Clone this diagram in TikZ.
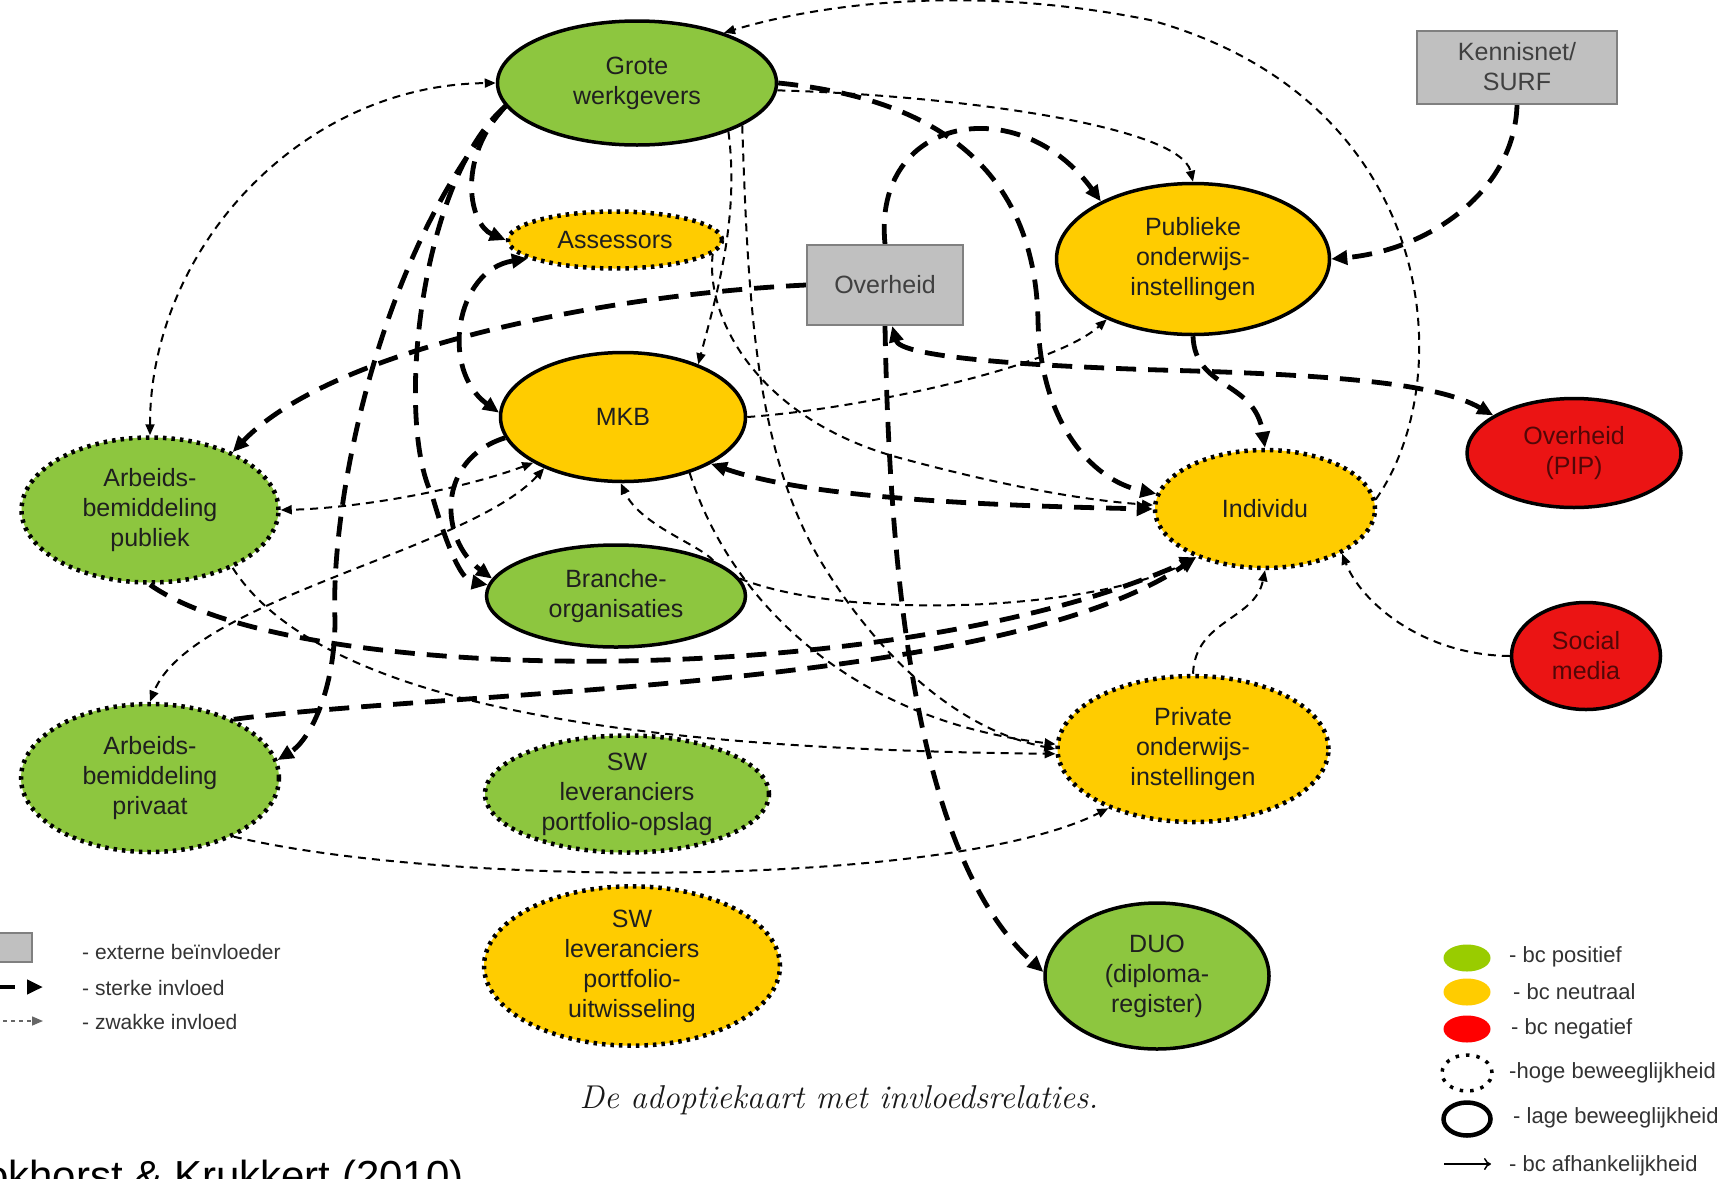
\documentclass[tikz,border=0pt]{standalone}
\usepackage{fontspec}
\newfontfamily\nf{Liberation Sans}
\usetikzlibrary{arrows.meta,shapes.geometric}
\definecolor{ngreen}{RGB}{141,198,63}
\definecolor{nyellow}{RGB}{255,204,0}
\definecolor{nred}{RGB}{235,20,20}
\definecolor{boxgrey}{RGB}{192,192,192}
\definecolor{boxedge}{RGB}{128,128,128}
\definecolor{lgreen}{RGB}{153,204,0}
\definecolor{lred}{RGB}{255,0,0}
\pgfdeclarelayer{bgl}
\pgfdeclarelayer{edges}
\pgfsetlayers{bgl,edges,main}
\tikzset{
  nbase/.style={ellipse, inner sep=0pt, align=center, font=\nf\fontsize{25}{30}\selectfont, text=black!88},
  solidb/.style={draw=black, line width=3.5pt},
  dotb/.style={draw=black, line width=4.5pt, dash pattern=on 3.5pt off 5pt},
  gr/.style={fill=ngreen},
  ye/.style={fill=nyellow},
  re/.style={fill=nred, text=nred!35!black},
  ext/.style={rectangle, inner sep=0pt, fill=boxgrey, draw=boxedge, line width=2pt, align=center, font=\nf\fontsize{25}{30}\selectfont, text=black!75},
  strong/.style={line width=4.8pt, dash pattern=on 20pt off 12pt, -{Triangle[length=16pt,width=14pt]}},
  strongboth/.style={line width=4.8pt, dash pattern=on 20pt off 12pt, {Triangle[length=16pt,width=14pt]}-{Triangle[length=16pt,width=14pt]}},
  weak/.style={line width=2pt, dash pattern=on 8pt off 6pt, -{Triangle[length=11pt,width=9pt]}},
  weakboth/.style={line width=2pt, dash pattern=on 8pt off 6pt, {Triangle[length=11pt,width=9pt]}-{Triangle[length=11pt,width=9pt]}},
  legtxt/.style={anchor=west, inner sep=0pt, font=\nf\fontsize{22}{26}\selectfont, text=black!80},
  legell/.style={ellipse, inner sep=0pt, minimum width=47pt, minimum height=27pt}
}
\begin{document}
\begin{tikzpicture}[x=1pt,y=-1pt]
\begin{pgfonlayer}{bgl}
\fill[white] (0,0) rectangle (1728,1178);
\end{pgfonlayer}
\useasboundingbox (0,0) rectangle (1728,1178);

% nodes
\node[nbase, solidb, gr, minimum width=279pt, minimum height=124pt] (grote) at (637,83) {Grote\\werkgevers};
\node[ext, minimum width=200pt, minimum height=73pt] (kennis) at (1517,67) {Kennisnet/\\SURF};
\node[nbase, dotb, ye, minimum width=214pt, minimum height=57pt] (assess) at (615,240) {Assessors};
\node[ext, minimum width=156pt, minimum height=80pt] (overh) at (885,285) {Overheid};
\node[nbase, solidb, ye, minimum width=273pt, minimum height=151pt] (publ) at (1193,259) {Publieke\\onderwijs-\\instellingen};
\node[nbase, solidb, ye, minimum width=245pt, minimum height=129pt] (mkb) at (623,417) {MKB};
\node[nbase, dotb, gr, minimum width=257pt, minimum height=145pt] (abpub) at (150,510) {Arbeids-\\bemiddeling\\publiek};
\node[nbase, solidb, re, minimum width=214pt, minimum height=109pt] (pip) at (1574,453) {Overheid\\(PIP)};
\node[nbase, dotb, ye, minimum width=220pt, minimum height=118pt] (indiv) at (1265,509) {Individu};
\node[nbase, solidb, gr, minimum width=259pt, minimum height=102pt] (branche) at (616,596) {Branche-\\organisaties};
\node[nbase, solidb, re, minimum width=149pt, minimum height=107pt] (social) at (1586,656) {Social\\media};
\node[nbase, dotb, gr, minimum width=258pt, minimum height=148pt] (abpriv) at (150,778) {Arbeids-\\bemiddeling\\privaat};
\node[nbase, dotb, gr, minimum width=284pt, minimum height=117pt] (swopslag) at (627,794) {SW\\leveranciers\\portfolio-opslag};
\node[nbase, dotb, ye, minimum width=271pt, minimum height=146pt] (priv) at (1193,749) {Private\\onderwijs-\\instellingen};
\node[nbase, dotb, ye, minimum width=296pt, minimum height=125pt] (swuitw) at (632,966) {SW\\leveranciers\\portfolio-\\uitwisseling};
\node[nbase, solidb, gr, minimum width=224pt, minimum height=146pt] (duo) at (1157,976) {DUO\\(diploma-\\register)};

% edges
\begin{pgfonlayer}{edges}
% strong
\draw[strong] (grote.east) .. controls (950,100) and (1035,180) .. (1038,320) .. controls (1040,420) and (1090,480) .. (indiv.172);
\draw[strong] (overh.west) .. controls (600,295) and (330,350) .. (abpub.35);
\draw[strongboth] (overh.-80) .. controls (900,355) and (1000,365) .. (1160,370) .. controls (1350,375) and (1440,385) .. (pip.155);
\draw[strong] (overh.south) .. controls (890,600) and (920,860) .. (duo.178);
\draw[strong] (overh.north) .. controls (872,115) and (1020,90) .. (publ.148);
\draw[strong] (kennis.south) .. controls (1515,190) and (1430,250) .. (publ.east);
\draw[strong] (publ.south) .. controls (1195,390) and (1255,380) .. (indiv.north);
\draw[strongboth] (mkb.-28) .. controls (800,495) and (950,505) .. (indiv.west);
\draw[strong] (grote.190) .. controls (420,180) and (395,420) .. (432,495) .. controls (445,540) and (460,580) .. (branche.175);
\draw[strong] (grote.190) .. controls (380,250) and (330,500) .. (335,620) .. controls (335,690) and (310,740) .. (abpriv.8);
\draw[strong] (grote.190) .. controls (455,160) and (470,225) .. (assess.west);
\draw[strongboth] (assess.192) .. controls (455,270) and (440,370) .. (mkb.178);
\draw[strong] (mkb.190) .. controls (435,460) and (440,540) .. (branche.172);
\draw[strong] (abpub.south) .. controls (300,690) and (900,690) .. (indiv.-145);
\draw[strong] (abpriv.35) .. controls (450,690) and (1000,690) .. (indiv.-145);
% weak
\draw[weak] (indiv.5) .. controls (1460,380) and (1440,100) .. (1150,20) .. controls (950,-20) and (800,10) .. (grote.30);
\draw[weak] (grote.-3) .. controls (950,95) and (1180,125) .. (publ.north);
\draw[weakboth] (abpub.north) .. controls (150,250) and (300,85) .. (grote.west);
\draw[weak] (grote.-28) .. controls (740,220) and (715,300) .. (mkb.35);
\draw[weak] (grote.-22) .. controls (748,300) and (755,450) .. (820,560) .. controls (880,660) and (960,730) .. (priv.180);
\draw[weak] (assess.-8) .. controls (705,320) and (760,420) .. (900,458) .. controls (1000,485) and (1080,500) .. (indiv.178);
\draw[weak] (mkb.-40) .. controls (730,600) and (850,720) .. (priv.178);
\draw[weak] (abpub.-35) .. controls (330,720) and (700,750) .. (priv.182);
\draw[weakboth] (mkb.-153) .. controls (460,490) and (360,508) .. (abpub.east);
\draw[weakboth] (mkb.-147) .. controls (470,550) and (190,600) .. (abpriv.north);
\draw[weak] (branche.20) .. controls (700,545) and (640,525) .. (mkb.-92);
\draw[weak] (branche.8) .. controls (850,622) and (1100,610) .. (indiv.-145);
\draw[weak] (social.west) .. controls (1420,655) and (1360,600) .. (indiv.-30);
\draw[weak] (priv.north) .. controls (1195,620) and (1255,620) .. (indiv.south);
\draw[weak] (abpriv.-35) .. controls (450,888) and (950,888) .. (priv.-145);
\draw[weak] (mkb.east) .. controls (850,410) and (1050,370) .. (publ.-145);
\end{pgfonlayer}

% left legend
\node[ext, minimum width=40pt, minimum height=29pt] (lgbox) at (12,947) {};
\coordinate (ls1) at (-5,987);
\coordinate (le1) at (43,987);
\draw[strong] (ls1) -- (le1);
\coordinate (ls2) at (-5,1021);
\coordinate (le2) at (43,1021);
\draw[weak, line width=1.5pt, dash pattern=on 4pt off 4pt, draw=black!60] (ls2) -- (le2);
\node[legtxt, font=\nf\fontsize{21}{25}\selectfont] (lt1) at (82,952) {- externe beïnvloeder};
\node[legtxt, font=\nf\fontsize{21}{25}\selectfont] (lt2) at (82,988) {- sterke invloed};
\node[legtxt, font=\nf\fontsize{21}{25}\selectfont] (lt3) at (82,1022) {- zwakke invloed};

% right legend
\node[legell, fill=lgreen] (rg) at (1467,958) {};
\node[legell, fill=nyellow] (ry) at (1467,992) {};
\node[legell, fill=lred] (rr) at (1467,1029) {};
\node[legell, minimum width=50pt, minimum height=36pt, draw=black, line width=3.5pt, dash pattern=on 3.5pt off 7pt] (rdot) at (1467,1073) {};
\node[legell, minimum width=47pt, minimum height=33pt, draw=black, line width=4.5pt] (rsol) at (1467,1119) {};
\coordinate (ra1) at (1444,1164);
\coordinate (ra2) at (1491,1164);
\draw[line width=1.5pt, -{To[length=7pt,width=12pt]}] (ra1) -- (ra2);
\node[legtxt] (rt1) at (1509,957) {- bc positief};
\node[legtxt] (rt2) at (1513,992) {- bc neutraal};
\node[legtxt] (rt3) at (1511,1029) {- bc negatief};
\node[legtxt] (rt4) at (1509,1073) {-hoge beweeglijkheid};
\node[legtxt] (rt5) at (1513,1118) {- lage beweeglijkheid};
\node[legtxt] (rt6) at (1509,1166) {- bc afhankelijkheid};

% caption and citation
\node[inner sep=0pt, font=\itshape\fontsize{33}{38}\selectfont, text=black!90] (capt) at (839,1100) {De adoptiekaart met invloedsrelaties.};
\node[anchor=base west, inner sep=0pt, font=\nf\fontsize{42}{50}\selectfont] (cite) at (-15,1190) {okhorst \& Krukkert (2010)};
\end{tikzpicture}
\end{document}
